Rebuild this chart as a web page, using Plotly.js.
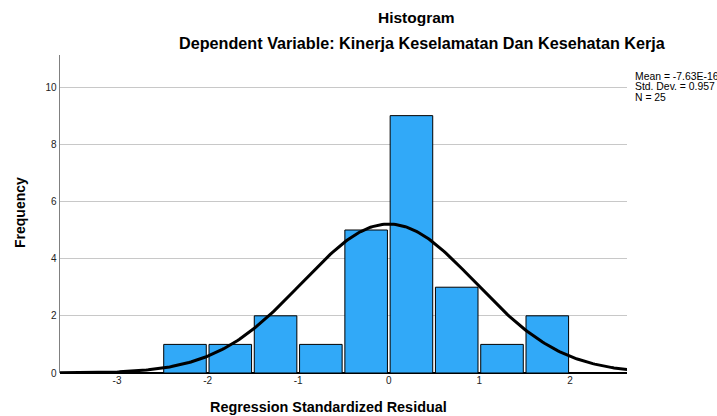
<!DOCTYPE html>
<html>
<head>
<meta charset="utf-8">
<script src="https://cdn.plot.ly/plotly-3.0.1.min.js"></script>
<style>html,body{margin:0;padding:0;background:#fff;}#chart{width:717px;height:416px;}</style>
</head>
<body>
<div id="chart"></div>
<script>
// Histogram bins (centres of 0.5-wide bins) and frequencies
var binCenters = [-2.25, -1.75, -1.25, -0.75, -0.25, 0.25, 0.75, 1.25, 1.75];
var frequencies = [1, 1, 2, 1, 5, 9, 3, 1, 2];
var binWidth = 0.5;
// Summary statistics shown on the chart
var statMean = -7.63e-16;
var statSD = 0.957;
var statN = 25;
var statLabels = ["Mean = -7.63E-16", "Std. Dev. = 0.957", "N = 25"];
var xTicks = [-3, -2, -1, 0, 1, 2];
var yTicks = [0, 2, 4, 6, 8, 10];

// Normal curve defined by the displayed mean, SD and N
var curveX = [], curveY = [];
for (var i = 0; i <= 300; i++) {
  var x = -3.7 + i * (6.4 / 300);
  curveX.push(x);
  var z = (x - statMean) / statSD;
  curveY.push(statN * binWidth * Math.exp(-0.5 * z * z) / (statSD * Math.sqrt(2 * Math.PI)));
}

var font = "Arial, 'Liberation Sans', sans-serif";
var traces = [
  {type: 'bar', x: binCenters, y: frequencies, width: 0.47,
   marker: {color: '#31A9F8', line: {color: '#000', width: 1}}, hoverinfo: 'x+y'},
  {type: 'scatter', mode: 'lines', x: curveX, y: curveY,
   line: {color: '#000', width: 3}, hoverinfo: 'skip'}
];

function py(Y) { return (373 - Y) / 318; }
function px(X) { return (X - 60) / 567; }

var annotations = [
  {text: 'Histogram', x: px(416), y: py(17), font: {family: font, size: 15.5, weight: 'bold', color: '#000'}},
  {text: 'Dependent Variable: Kinerja Keselamatan Dan Kesehatan Kerja', x: px(422), y: py(43), font: {family: font, size: 16.2, weight: 'bold', color: '#000'}},
  {text: 'Regression Standardized Residual', x: px(328), y: py(407), font: {family: font, size: 14.4, weight: 'bold', color: '#000'}},
  {text: 'Frequency', x: px(20), y: py(213), textangle: -90, font: {family: font, size: 14, weight: 'bold', color: '#000'}}
];
var statYs = [76, 86.5, 97];
for (var k = 0; k < statLabels.length; k++) {
  annotations.push({text: statLabels[k], x: px(633), y: py(statYs[k]), xanchor: 'left',
    font: {family: font, size: 10.4, color: '#000'}});
}
annotations.forEach(function (a) {
  a.xref = 'paper'; a.yref = 'paper'; a.showarrow = false;
  if (!a.xanchor) a.xanchor = 'center';
  a.yanchor = 'middle';
});

var layout = {
  width: 717, height: 416,
  margin: {l: 60, r: 90, t: 55, b: 43},
  paper_bgcolor: '#fff', plot_bgcolor: '#fff',
  showlegend: false,
  bargap: 0,
  xaxis: {range: [-3.63, 2.63], tickvals: xTicks, ticktext: xTicks.map(String),
    showgrid: false, zeroline: false, showline: false, ticks: '',
    tickfont: {family: font, size: 10, color: '#222'}, fixedrange: true},
  yaxis: {range: [0, 11.12], tickvals: yTicks, ticktext: yTicks.map(String),
    showgrid: true, gridcolor: '#c8c8c8', gridwidth: 1,
    zeroline: true, zerolinecolor: '#000', zerolinewidth: 2,
    showline: true, linecolor: '#808080', linewidth: 1.5, ticks: '',
    tickfont: {family: font, size: 10, color: '#222'}, fixedrange: true},
  annotations: annotations
};

Plotly.newPlot('chart', traces, layout, {displayModeBar: false, staticPlot: true});
</script>
</body>
</html>
